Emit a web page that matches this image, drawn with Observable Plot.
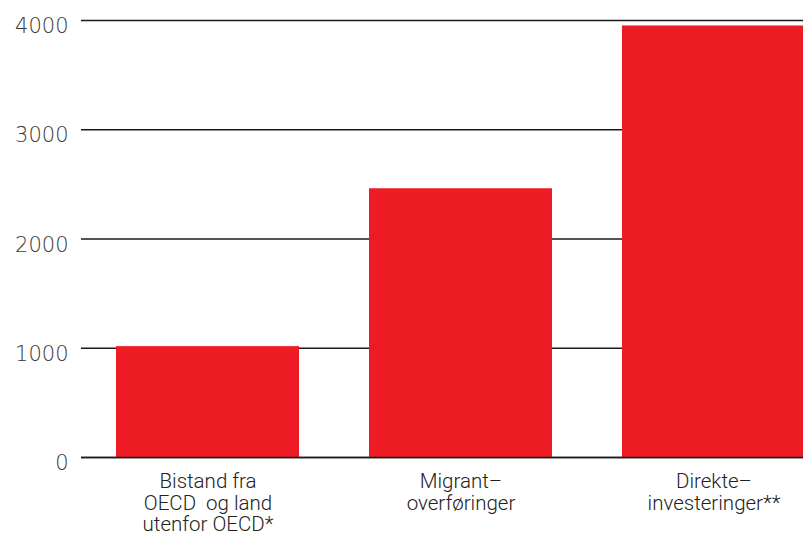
<!DOCTYPE html>
<html>
<head>
<meta charset="utf-8">
<script src="https://cdn.jsdelivr.net/npm/d3@7"></script>
<script src="https://cdn.jsdelivr.net/npm/@observablehq/plot@0.6"></script>
<style>
  html, body { margin: 0; padding: 0; background: #fff; overflow: hidden; }
  #chart svg { overflow: hidden; display: block; }
</style>
</head>
<body>
<div id="chart"></div>
<script>
const categories = ["Bistand fra\nOECD  og land\nutenfor OECD*", "Migrant–\noverføringer", "Direkte–\ninvesteringer**"];
const values = [1015, 2460, 3950];
const yTicks = [0, 1000, 2000, 3000, 4000];

const data = categories.map((c, i) => ({category: c, value: values[i]}));

const chart = Plot.plot({
  width: 803,
  height: 539,
  marginLeft: 81,
  marginRight: 0,
  marginTop: 20,
  marginBottom: 82,
  style: {fontFamily: "DejaVu Sans", background: "#fff", overflow: "hidden"},
  x: {type: "band", domain: categories, range: [81, 840], paddingInner: 0.277, paddingOuter: 0.138, align: 0.5, axis: null},
  y: {domain: [0, 4000], axis: null},
  marks: [
    Plot.ruleY(yTicks, {stroke: "#1a1a1a", strokeWidth: 1.5}),
    Plot.barY(data, {x: "category", y: "value", fill: "#ed1c24"}),
    Plot.ruleY([0], {stroke: "#1a1a1a", strokeWidth: 1.5}),
    Plot.axisY(yTicks, {label: null, tickSize: 0, tickPadding: 13, fontSize: 21, dy: 6, fill: "#383838", fontWeight: 300, tickFormat: d => String(d), fontFamily: "DejaVu Sans"}),
    Plot.text(data, {x: "category", y: 0, text: "category", lineAnchor: "top", dy: 15, fontSize: 20.5, lineHeight: 1.06, fill: "#222", fontFamily: "Roboto", fontWeight: 300, textAnchor: "middle"})
  ]
});
document.getElementById("chart").appendChild(chart);
</script>
</body>
</html>
